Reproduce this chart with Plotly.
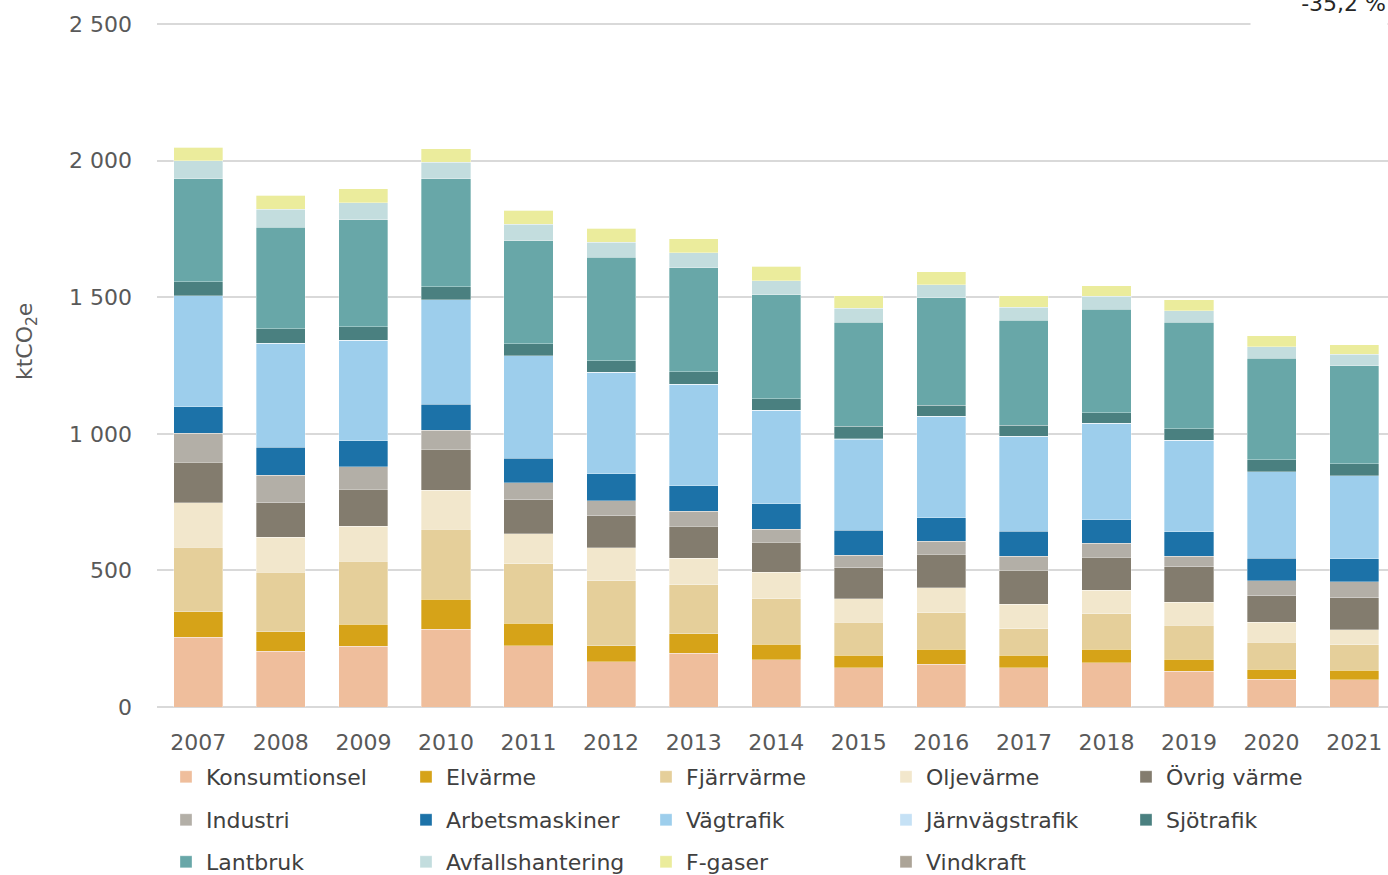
import plotly.graph_objects as go

years = ["2007", "2008", "2009", "2010", "2011", "2012", "2013", "2014",
         "2015", "2016", "2017", "2018", "2019", "2020", "2021"]

konsumtionsel = [255, 205, 223, 285, 224, 166, 196, 173, 143, 157, 143, 162, 131, 102, 99]
elvarme = [94, 71, 80, 110, 83, 58, 72, 57, 46, 55, 46, 50, 44, 37, 35]
fjarrvarme = [236, 218, 230, 255, 218, 238, 179, 166, 122, 133, 98, 130, 124, 98, 94]
oljevarme = [163, 128, 128, 144, 109, 121, 97, 97, 85, 91, 89, 85, 85, 73, 55]
ovrig_varme = [148, 126, 137, 149, 125, 117, 117, 110, 114, 124, 125, 122, 130, 97, 117]
industri = [106, 101, 82, 70, 62, 55, 55, 47, 45, 47, 51, 50, 38, 55, 59]
arbetsmaskiner = [97, 102, 95, 95, 90, 99, 94, 94, 92, 86, 91, 87, 90, 83, 83]
vagtrafik = [406, 380, 366, 382, 374, 370, 371, 341, 334, 371, 348, 351, 333, 316, 304]
jarnvagstrafik = [1, 1, 1, 1, 1, 1, 1, 1, 1, 1, 1, 1, 1, 1, 1]
sjotrafik = [51, 53, 50, 47, 44, 42, 46, 42, 45, 39, 39, 39, 43, 43, 43]
lantbruk = [376, 372, 392, 395, 376, 380, 380, 382, 382, 395, 385, 380, 390, 372, 359]
avfallshantering = [67, 66, 62, 62, 62, 54, 55, 51, 50, 47, 47, 46, 41, 42, 43]
f_gaser = [50, 50, 51, 48, 51, 51, 51, 52, 47, 47, 42, 39, 41, 40, 35]
vindkraft = [0, 0, 0, 0, 0, 0, 0, 0, 0, 0, 0, 0, 0, 0, 0]

series = [
    ("Konsumtionsel", konsumtionsel, "#EFBE9C", "legend"),
    ("Elvärme", elvarme, "#D6A318", "legend"),
    ("Fjärrvärme", fjarrvarme, "#E5CF9A", "legend"),
    ("Oljevärme", oljevarme, "#F2E7CC", "legend"),
    ("Övrig värme", ovrig_varme, "#837C6E", "legend"),
    ("Industri", industri, "#B3AFA7", "legend2"),
    ("Arbetsmaskiner", arbetsmaskiner, "#1C72A8", "legend2"),
    ("Vägtrafik", vagtrafik, "#9DCEEC", "legend2"),
    ("Järnvägstrafik", jarnvagstrafik, "#C5E1F5", "legend2"),
    ("Sjötrafik", sjotrafik, "#4A8080", "legend2"),
    ("Lantbruk", lantbruk, "#68A7A8", "legend3"),
    ("Avfallshantering", avfallshantering, "#C3DDDE", "legend3"),
    ("F-gaser", f_gaser, "#EBEC9C", "legend3"),
    ("Vindkraft", vindkraft, "#ACA497", "legend3"),
]

FONT = "DejaVu Sans"
TXT = "#595959"
FS = 22

fig = go.Figure()
for name, vals, color, lg in series:
    fig.add_trace(go.Bar(
        x=years, y=vals, name=name, legend=lg,
        marker=dict(color=color, line=dict(color="rgba(255,255,255,0.55)", width=0.6)),
    ))

W, H = 1388, 875
L, R, T, B = 157, 0, 23, 168
ph = H - T - B

def py(pix):
    return (H - B - pix) / ph

def px(pix):
    return (pix - L) / (W - L - R)

legend_common = dict(
    orientation="h", xanchor="left", yanchor="middle",
    xref="container", yref="container",
    entrywidth=195, entrywidthmode="pixels",
    font=dict(family=FONT, size=FS, color="#404040"),
    bgcolor="rgba(0,0,0,0)", traceorder="normal", itemclick=False,
)

fig.update_layout(
    width=W, height=H,
    margin=dict(l=L, r=R, t=T, b=B, pad=0),
    paper_bgcolor="white", plot_bgcolor="white",
    barmode="stack", bargap=0.405,
    separators=", ",
    font=dict(family=FONT, size=FS, color=TXT),
    legend=dict(x=166 / W, y=1 - 777 / H, **legend_common),
    legend2=dict(x=166 / W, y=1 - 820 / H, **legend_common),
    legend3=dict(x=166 / W, y=1 - 862 / H, **legend_common),
    xaxis=dict(
        type="category", range=[-0.5, 14.41],
        showgrid=False, showline=False, ticks="",
        tickfont=dict(family=FONT, size=FS, color=TXT),
        ticklabelstandoff=20,
        automargin=False,
    ),
    yaxis=dict(
        range=[0, 2504], tickvals=[0, 500, 1000, 1500, 2000, 2500],
        tickformat=",d",
        showgrid=True, gridcolor="#D9D9D9", gridwidth=1.5,
        zeroline=True, zerolinecolor="#D9D9D9", zerolinewidth=1.5,
        showline=False, ticks="",
        tickfont=dict(family=FONT, size=FS, color=TXT),
        ticklabelstandoff=24,
        automargin=False,
    ),
    annotations=[
        dict(
            text="ktCO<sub>2</sub>e", textangle=-90,
            xref="paper", yref="paper", x=px(26), y=py(342),
            xanchor="center", yanchor="middle", showarrow=False,
            font=dict(family=FONT, size=FS, color=TXT),
        ),
        dict(
            text="-35,2 %",
            xref="paper", yref="paper", x=1.0, y=py(3),
            xanchor="right", yanchor="middle", showarrow=False,
            align="right", width=134, height=50, bgcolor="white",
            font=dict(family=FONT, size=FS, color="#262626"),
        ),
    ],
)

fig.write_html(
    "out.html",
    config={"displayModeBar": False},
    post_script="document.body.style.margin='0';document.body.style.overflow='hidden';",
)
